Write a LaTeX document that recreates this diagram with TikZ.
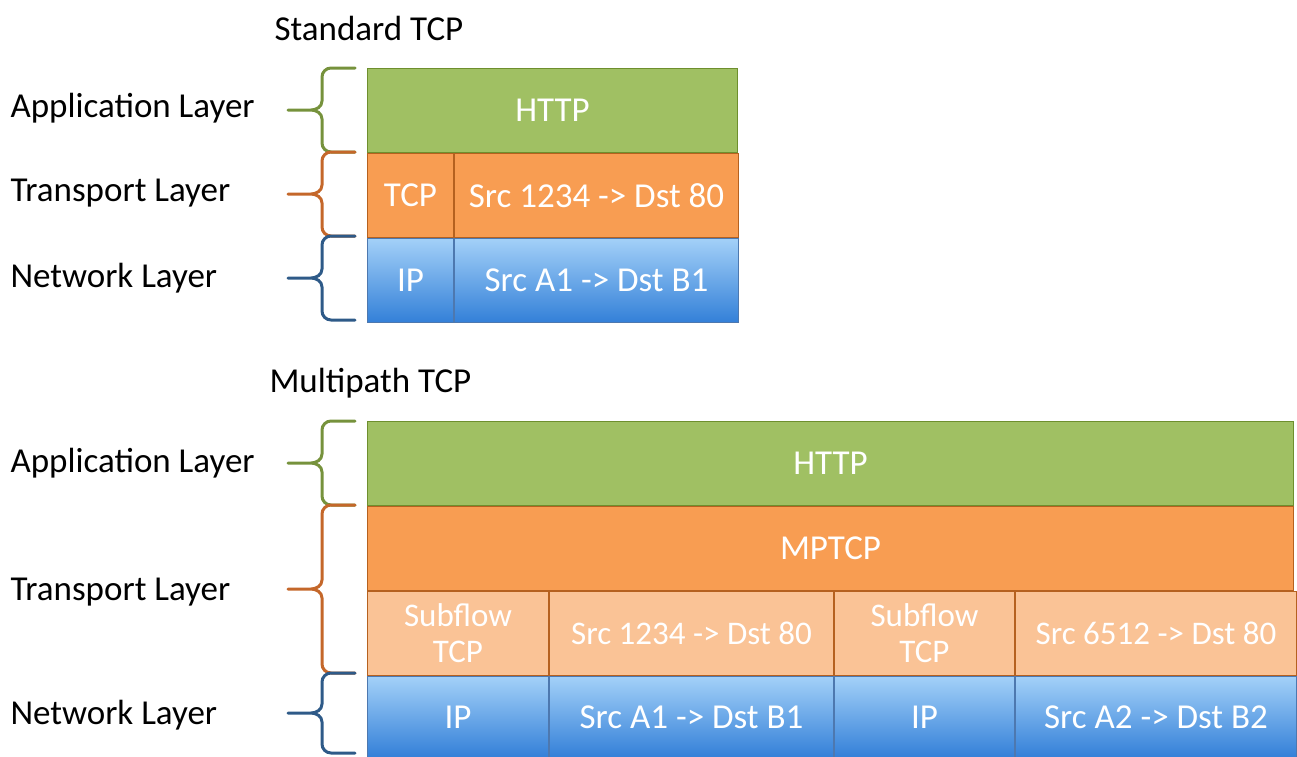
\documentclass[tikz,border=0pt]{standalone}
\usepackage{fontspec}
\setmainfont{Carlito}
\definecolor{appfill}{HTML}{A0C063}
\definecolor{appline}{HTML}{6E8F2E}
\definecolor{tcpfill}{HTML}{F89D52}
\definecolor{tcpline}{HTML}{B5611F}
\definecolor{subfill}{HTML}{FAC396}
\definecolor{iptop}{HTML}{A3D0F8}
\definecolor{ipbottom}{HTML}{3380D8}
\definecolor{ipline}{HTML}{4D78AF}
\definecolor{bracegreen}{HTML}{76923C}
\definecolor{braceorange}{HTML}{C4672A}
\definecolor{braceblue}{HTML}{2E5A88}

\begin{document}
\begin{tikzpicture}[x=1pt, y=-1pt,
  txt/.style={font=\fontsize{35}{37}\selectfont},
  cell/.style={txt, draw, line width=1pt, anchor=north west, inner sep=0pt, text=white, align=center},
  appcell/.style={cell, fill=appfill, draw=appline, minimum height=84pt},
  tcpcell/.style={cell, fill=tcpfill, draw=tcpline, minimum height=84pt},
  subcell/.style={cell, fill=subfill, draw=tcpline, minimum height=84pt, font=\fontsize{33}{36}\selectfont},
  ipcell/.style={cell, top color=iptop, bottom color=ipbottom, draw=ipline, minimum height=84pt},
  brace/.style={line width=3pt, line cap=round}]
  \useasboundingbox (0,0) rectangle (1297,756);

  % Titles
  \node[txt, anchor=west] (stdtitle) at (271,28) {Standard TCP};
  \node[txt, anchor=west] (mptitle) at (266,383) {Multipath TCP};

  % Standard TCP stack
  \node[appcell, minimum width=370pt] (httpA) at (367,68) {HTTP};
  \node[tcpcell, minimum width=86pt] (tcpA) at (httpA.south west) {TCP};
  \node[tcpcell, minimum width=284pt] (portA) at (tcpA.north east) {Src 1234 -> Dst 80};
  \node[ipcell, minimum width=86pt] (ipA) at (tcpA.south west) {IP};
  \node[ipcell, minimum width=284pt] (addrA) at (ipA.north east) {Src A1 -> Dst B1};

  % Multipath TCP stack
  \node[appcell, minimum width=926pt] (httpB) at (367,421) {HTTP};
  \node[tcpcell, minimum width=926pt] (mptcpB) at (httpB.south west) {MPTCP};
  \node[subcell, minimum width=181pt] (subB) at (mptcpB.south west) {Subflow\\TCP};
  \node[subcell, minimum width=284pt] (portB) at (subB.north east) {Src 1234 -> Dst 80};
  \node[subcell, minimum width=180pt] (subC) at (portB.north east) {Subflow\\TCP};
  \node[subcell, minimum width=281pt] (portC) at (subC.north east) {Src 6512 -> Dst 80};
  \node[ipcell, minimum width=181pt, minimum height=81pt] (ipB) at (subB.south west) {IP};
  \node[ipcell, minimum width=284pt, minimum height=81pt] (addrB) at (ipB.north east) {Src A1 -> Dst B1};
  \node[ipcell, minimum width=180pt, minimum height=81pt] (ipC) at (addrB.north east) {IP};
  \node[ipcell, minimum width=281pt, minimum height=81pt] (addrC) at (ipC.north east) {Src A2 -> Dst B2};

  % Layer labels
  \node[txt, anchor=west] (appA) at (7,108) {Application Layer};
  \node[txt, anchor=west] (transA) at (7,193) {Transport Layer};
  \node[txt, anchor=west] (netA) at (7,278) {Network Layer};
  \node[txt, anchor=west] (appB) at (7,463) {Application Layer};
  \node[txt, anchor=west] (transB) at (7,592) {Transport Layer};
  \node[txt, anchor=west] (netB) at (7,715) {Network Layer};

  % Braces, standard
  \draw[brace, bracegreen] (355,68) -- (331,68) to[out=180,in=90] (322,77) -- (322,101) to[out=-90,in=0] (311,110) -- (288,110)
    (311,110) to[out=0,in=90] (322,119) -- (322,143) to[out=-90,in=180] (331,152) -- (355,152);
  \draw[brace, braceorange] (355,152) -- (331,152) to[out=180,in=90] (322,161) -- (322,185) to[out=-90,in=0] (311,194) -- (288,194)
    (311,194) to[out=0,in=90] (322,203) -- (322,227) to[out=-90,in=180] (331,236) -- (355,236);
  \draw[brace, braceblue] (355,236) -- (331,236) to[out=180,in=90] (322,245) -- (322,269) to[out=-90,in=0] (311,278) -- (288,278)
    (311,278) to[out=0,in=90] (322,287) -- (322,311) to[out=-90,in=180] (331,320) -- (355,320);

  % Braces, multipath
  \draw[brace, bracegreen] (355,421) -- (331,421) to[out=180,in=90] (322,430) -- (322,454) to[out=-90,in=0] (311,463) -- (288,463)
    (311,463) to[out=0,in=90] (322,472) -- (322,496) to[out=-90,in=180] (331,505) -- (355,505);
  \draw[brace, braceorange] (355,505) -- (331,505) to[out=180,in=90] (322,514) -- (322,580) to[out=-90,in=0] (311,589) -- (288,589)
    (311,589) to[out=0,in=90] (322,598) -- (322,664) to[out=-90,in=180] (331,673) -- (355,673);
  \draw[brace, braceblue] (355,673) -- (331,673) to[out=180,in=90] (322,682) -- (322,704) to[out=-90,in=0] (311,713) -- (288,713)
    (311,713) to[out=0,in=90] (322,722) -- (322,744) to[out=-90,in=180] (331,753) -- (355,753);
\end{tikzpicture}
\end{document}
